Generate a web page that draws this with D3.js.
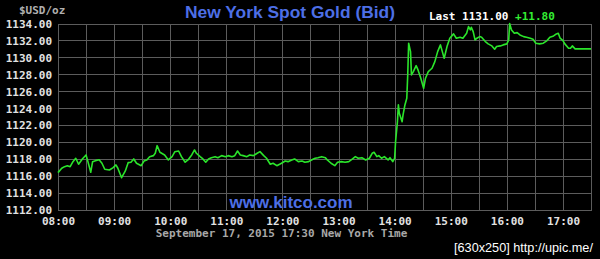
<!DOCTYPE html>
<html><head><meta charset="utf-8">
<script src="https://cdn.jsdelivr.net/npm/d3@7"></script>
<style>html,body{margin:0;padding:0;background:#000;overflow:hidden}</style>
</head><body><svg id="c" width="600" height="259"></svg>
<script>
const minutesSince0800 = [0,4,7,10,13,16,19,22,26,30,32,35,37,40,44,47,50,55,59,62,64,68,72,75,78,81,84,89,92,95,98,102,104,106,109,114,118,
122,125,129,132,136,139,143,146,148,152,155,158,161,164,168,171,175,179,182,186,189,192,195,198,202,205,209,213,216,220,223,227,230,234,237,
239,243,246,250,253,257,261,264,268,271,275,278,282,286,288,292,296,299,303,307,311,315,318,321,325,329,333,336,338,341,343,346,349,353,355,358,360,
361,363,364,365,368,369,371,373,374,375,377,378,380,383,385,388,391,393,396,400,403,406,409,411,413,416,419,
423,426,430,433,437,439,441,442,444,446,448,451,453,457,460,464,467,469,473,476,480,482,483,485,488,491,494,498,501,505,508,511,515,519,523,526,530,533,535,537,540,542,546,548,550,553,570];
const bidPrices = [1116.36,1116.88,1117.07,1117.18,1117.07,1117.66,1118.06,1117.35,1117.98,1118.45,1117.66,1116.40,1117.66,1117.78,1117.89,1117.47,1116.76,1116.67,1116.95,1117.27,1116.88,1115.76,1116.56,1117.54,1117.59,1117.98,1117.47,1117.18,1117.74,1117.86,1118.25,1118.37,1118.65,1119.55,1118.77,1118.45,1117.86,
1118.25,1118.84,1118.92,1118.25,1117.59,1117.86,1118.45,1119.04,1118.65,1118.25,1117.98,1117.59,1117.98,1118.13,1118.25,1118.13,1118.37,1118.25,1118.37,1118.25,1118.37,1118.92,1118.45,1118.37,1118.25,1118.45,1118.37,1118.65,1118.84,1118.37,1118.06,1117.35,1117.47,1117.18,1117.35,
1117.47,1117.74,1117.66,1117.86,1117.98,1117.66,1117.74,1117.59,1117.66,1117.86,1118.06,1118.13,1118.25,1118.13,1117.86,1117.47,1117.18,1117.59,1117.66,1117.59,1117.66,1117.98,1118.25,1118.06,1118.13,1117.86,1118.06,1118.65,1118.77,1118.25,1118.37,1118.06,1118.25,1117.86,1118.13,1117.66,1118.06,
1120.02,1122.39,1124.37,1123.38,1122.39,1123.18,1124.37,1125.16,1127.92,1131.67,1130.67,1127.92,1128.31,1129.02,1128.51,1127.53,1126.34,1127.53,1128.31,1128.71,1129.49,1130.67,1131.47,1130.67,1129.89,1131.27,1132.26,
1132.77,1132.26,1132.38,1132.26,1132.85,1133.63,1133.24,1133.56,1133.04,1132.06,1132.26,1132.45,1132.38,1131.86,1131.59,1131.35,1130.96,1131.27,1131.35,1131.47,1131.59,1132.06,1134.00,1133.24,1132.85,1132.92,1132.65,1132.45,1132.38,1132.26,1132.14,1131.67,1131.59,1131.67,1131.98,1132.38,1132.53,1132.77,1132.85,1132.26,1131.98,1131.59,1131.08,1131.08,1131.35,1131.00,1131.00];
const yTicks = [1112,1114,1116,1118,1120,1122,1124,1126,1128,1130,1132,1134];
const hourTicks = [0,60,120,180,240,300,360,420,480,540];
const hourLabels = ["08:00","09:00","10:00","11:00","12:00","13:00","14:00","15:00","16:00","17:00"];
const gridMinutes = d3.range(0, 571, 30);
const lastPrice = "1131.00", change = "+11.80";

const svg = d3.select("#c");
const L = 58, R = 591, T = 23.5, B = 209.5;
const x = d3.scaleLinear().domain([0,570]).range([L,R]);
const y = d3.scaleLinear().domain([1112,1134]).range([B,T]);
const mono = "'DejaVu Sans Mono', monospace";
const grid = "#5c5c5c";

svg.append("rect").attr("width",600).attr("height",259).attr("fill","#000");
const g = svg.append("g").attr("shape-rendering","crispEdges");
g.selectAll(".hg").data(yTicks).join("line").attr("x1",L).attr("x2",R)
  .attr("y1",d=>Math.round(y(d))+0.5).attr("y2",d=>Math.round(y(d))+0.5).attr("stroke",grid);
g.selectAll(".vg").data(gridMinutes).join("line").attr("y1",T).attr("y2",B)
  .attr("x1",d=>Math.round(x(d))+0.5).attr("x2",d=>Math.round(x(d))+0.5).attr("stroke",grid);
g.append("rect").attr("x",L+0.5).attr("y",Math.round(T)+0.5).attr("width",R-L).attr("height",Math.round(B)-Math.round(T))
  .attr("fill","none").attr("stroke",grid);

// axes
const ya = svg.append("g").attr("transform",`translate(${L-6},0)`)
  .call(d3.axisLeft(y).tickValues(yTicks).tickFormat(d3.format(".2f")).tickSize(0).tickPadding(0));
ya.select(".domain").remove();
ya.selectAll("text").attr("font-family",mono).attr("font-size",11).attr("font-weight","bold").attr("fill","#e2e2e2").attr("dy","0.36em");
const xa = svg.append("g").attr("transform",`translate(0,${B})`)
  .call(d3.axisBottom(x).tickValues(hourTicks).tickFormat((d,i)=>hourLabels[i]).tickSize(0).tickPadding(0));
xa.select(".domain").remove();
xa.selectAll("text").attr("font-family",mono).attr("font-size",11).attr("font-weight","bold").attr("fill","#e2e2e2").attr("dy","15.5px");

// line
const pts = minutesSince0800.map((m,i)=>[m,bidPrices[i]]);
svg.append("path").datum(pts).attr("fill","none").attr("stroke","#2be52b").attr("stroke-width",1.6)
  .attr("stroke-linejoin","round")
  .attr("d", d3.line().x(d=>x(d[0])).y(d=>y(d[1])));

// texts
svg.append("text").attr("x",19).attr("y",14).attr("font-family",mono).attr("font-size",11).attr("font-weight","bold").attr("fill","#b0b0b0").text("$USD/oz");
svg.append("text").attr("x",290).attr("y",18).attr("text-anchor","middle").attr("font-family","'Liberation Sans', Arial, sans-serif")
  .attr("font-size",17.4).attr("font-weight","bold").attr("fill","#4d6fe6").text("New York Spot Gold (Bid)");
const lt = svg.append("text").attr("x",429).attr("y",19.5).attr("font-family",mono).attr("font-size",11).attr("font-weight","bold");
lt.append("tspan").attr("fill","#ffffff").text("Last " + lastPrice + " ");
lt.append("tspan").attr("fill","#33ee33").text(change);
svg.append("text").attr("x",291).attr("y",208).attr("text-anchor","middle").attr("font-family","'Liberation Sans', Arial, sans-serif")
  .attr("font-size",17).attr("font-weight","bold").attr("fill","#4d6fe6").text("www.kitco.com");
svg.append("text").attr("x",281.5).attr("y",237).attr("text-anchor","middle").attr("font-family",mono).attr("font-size",11).attr("font-weight","bold")
  .attr("fill","#a8a8a8").text("September 17, 2015 17:30 New York Time");
svg.append("text").attr("x",454).attr("y",252).attr("font-family","'Liberation Sans', Arial, sans-serif").attr("font-size",12.7)
  .attr("fill","#ffffff").text("[630x250] http://upic.me/");
</script></body></html>
